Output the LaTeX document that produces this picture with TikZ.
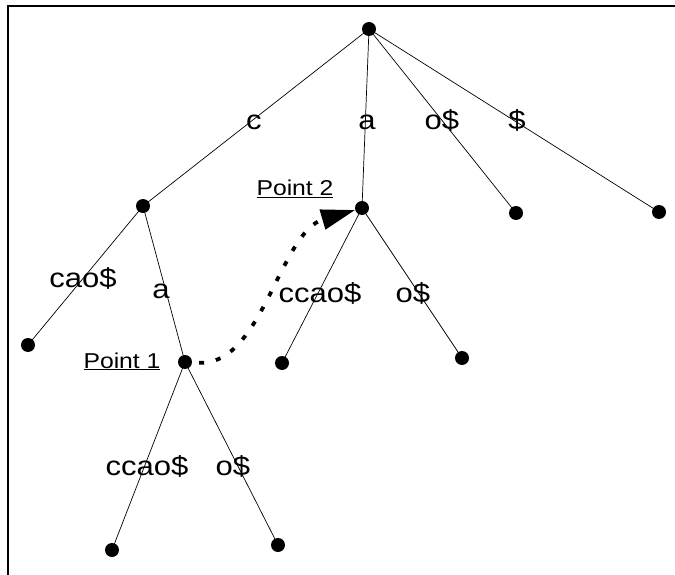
\documentclass[tikz,border=0pt]{standalone}
\usepackage{fontspec}
\setmainfont{Liberation Sans}[FakeStretch=1.15]
\usetikzlibrary{arrows.meta}
\begin{document}
\begin{tikzpicture}[x=1pt,y=-1pt,
  dot/.style={circle,fill=black,inner sep=0pt,minimum size=14pt},
  edge/.style={line width=0.7pt},
  lab/.style={font=\fontsize{27}{27}\selectfont,anchor=base,inner sep=0pt},
  plab/.style={font=\fontsize{21.5}{21.5}\selectfont,anchor=base,inner sep=0pt},
  move/.style={line width=3.8pt,dash pattern=on 5pt off 12pt,shorten <=7pt,-{Triangle[length=34pt,width=20pt]}},
  frame/.style={line width=1.1pt}
]
\useasboundingbox (0,0) rectangle (675,575);
\draw[frame] (8,575) -- (8,6) -- (675,6);

\node[dot] (r)  at (369,29)  {};
\node[dot] (c)  at (143,206) {};
\node[dot] (p2) at (362,208) {};
\node[dot] (l1) at (516,213) {};
\node[dot] (l2) at (659,212) {};
\node[dot] (l3) at (28,345)  {};
\node[dot] (p1) at (185,362) {};
\node[dot] (l4) at (282,363) {};
\node[dot] (l5) at (462,358) {};
\node[dot] (l6) at (112,550) {};
\node[dot] (l7) at (278,545) {};

\foreach \a/\b in {r/c, r/p2, r/l1, r/l2, c/l3, c/p1, p2/l4, p2/l5, p1/l6, p1/l7}
  \draw[edge] (\a.center) -- (\b.center);

\node[lab] (tc)  at (254,130) {c};
\node[lab] (ta)  at (367,130) {a};
\node[lab] (to)  at (442,130) {o\$};
\node[lab] (td)  at (517,130) {\$};
\node[lab] (tcao) at (83,287) {cao\$};
\node[lab] (ta2) at (161,298) {a};
\node[lab] (tcc1) at (320,302) {ccao\$};
\node[lab] (to1) at (413,302) {o\$};
\node[lab] (tcc2) at (147,475) {ccao\$};
\node[lab] (to2) at (233,475) {o\$};

\node[plab] (pt2) at (295,196) {\underline{Point 2}};
\node[plab] (pt1) at (122,368) {\underline{Point 1}};

\draw[move] (p1) .. controls (262,366) and (280,232) .. (p2);
\end{tikzpicture}
\end{document}
